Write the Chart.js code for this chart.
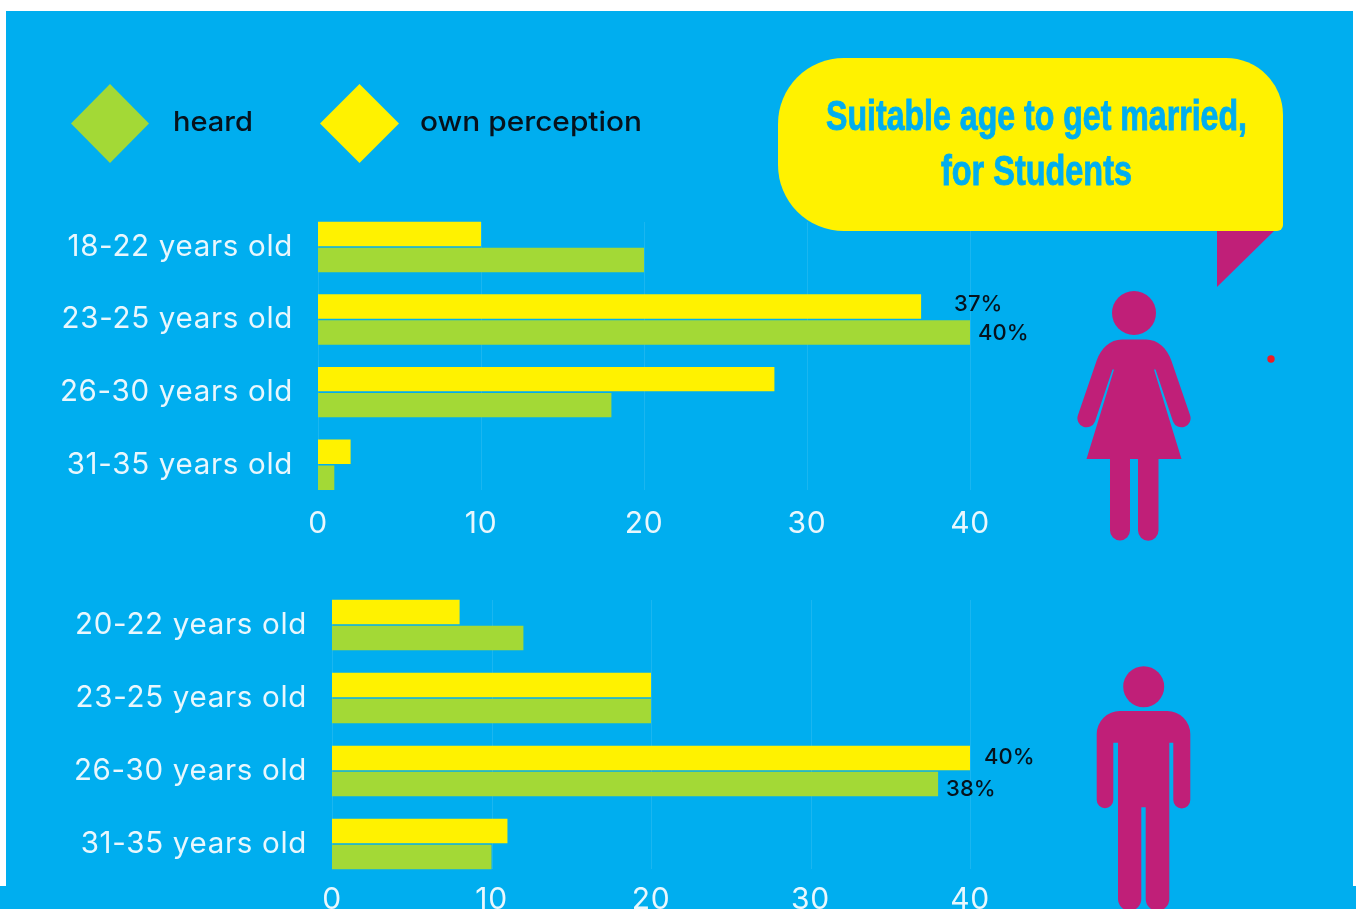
<!DOCTYPE html>
<html>
<head>
<meta charset="utf-8">
<title>Suitable age to get married, for Students</title>
<script src="https://cdn.jsdelivr.net/npm/chart.js@4"></script>
<style>
    html, body { margin: 0; padding: 0; width: 1356px; height: 909px; overflow: hidden; background: #fff; }
    .panel { position: absolute; background: #00aeef; }
    #panel { left: 6px; top: 11px; width: 1347px; height: 898px; }
    #strip { left: 0; top: 886px; width: 1356px; height: 23px; }
    canvas { position: absolute; left: 0; }
    #femaleChart { top: 200px; }
    #maleChart { top: 570px; }
    #art { position: absolute; left: 0; top: 0; }
</style>
</head>
<body>
<div class="panel" id="panel"></div>
<div class="panel" id="strip"></div>
<canvas id="femaleChart" width="1100" height="350"></canvas>
<canvas id="maleChart" width="1100" height="360"></canvas>

<svg id="art" width="1356" height="909" viewBox="0 0 1356 909">
    <!-- legend -->
    <polygon id="keyHeard" points="110,84 149,123.5 110,163 71,123.5"/>
    <polygon id="keyOwn" points="359.5,84 399,123.5 359.5,163 320,123.5"/>
    <text id="keyHeardText" x="173" y="131" textLength="80" lengthAdjust="spacingAndGlyphs"
          font-family="Inter" font-size="27" font-weight="500" fill="#06121c"></text>
    <text id="keyOwnText" x="420" y="131" textLength="222" lengthAdjust="spacingAndGlyphs"
          font-family="Inter" font-size="27" font-weight="500" fill="#06121c"></text>

    <!-- speech bubble -->
    <polygon points="1217,231 1274,231 1217,287" fill="#c01f78"/>
    <path fill="#fff200" d="M844 58 H1226 A57 57 0 0 1 1283 115 V225 A6 6 0 0 1 1277 231 H844 A66 66 0 0 1 778 165 V124 A66 66 0 0 1 844 58 Z"/>
    <g font-family="'Liberation Sans', Arial" font-size="42" font-weight="700" fill="#00aeef" stroke="#00aeef" stroke-width="0.9">
        <text id="titleOne" x="826" y="130" textLength="421" lengthAdjust="spacingAndGlyphs"></text>
        <text id="titleTwo" x="941" y="185" textLength="191" lengthAdjust="spacingAndGlyphs"></text>
    </g>

    <!-- woman -->
    <g fill="#c01f78">
        <circle cx="1134" cy="313" r="22"/>
        <path d="M1122 339.5 H1146 C1158 339.5 1167 348 1171.5 361 L1190 415 A8.8 8.8 0 0 1 1173 421.5 L1155.5 369.5 H1154 L1181.5 459 H1158.5 V530.5 A10.2 10.2 0 0 1 1138 530.5 V459 H1130 V530.5 A10 10 0 0 1 1110 530.5 V459 H1086.5 L1114 369.5 H1112.5 L1095 421.5 A8.8 8.8 0 0 1 1078 415 L1096.5 361 C1101 348 1110 339.5 1122 339.5 Z"/>
    </g>

    <!-- man -->
    <g fill="#c01f78">
        <circle cx="1143.7" cy="686.7" r="20.5"/>
        <path d="M1120 711 H1167 A23 23 0 0 1 1190.3 734 V800 A8.5 8.5 0 0 1 1173.3 800 V742.7 H1169.3 V899 A11.8 11.8 0 0 1 1145.7 899 V807.3 H1141.3 V899 A11.6 11.6 0 0 1 1118 899 V742.7 H1113.3 V800 A8.3 8.3 0 0 1 1096.7 800 V734 A23 23 0 0 1 1120 711 Z"/>
    </g>

    <circle cx="1271" cy="359" r="3.7" fill="#ed1c24"/>
</svg>

<script>
const titleLines = ['Suitable age to get married,', 'for Students'];
const seriesNames = ['own perception', 'heard'];

const femaleAges = ['18-22 years old', '23-25 years old', '26-30 years old', '31-35 years old'];
const femaleOwn = [10, 37, 28, 2];
const femaleHeard = [20, 40, 18, 1];

const maleAges = ['20-22 years old', '23-25 years old', '26-30 years old', '31-35 years old'];
const maleOwn = [8, 20, 40, 11];
const maleHeard = [12, 20, 38, 10];

const YELLOW = '#fff200';
const GREEN = '#a3d936';
const TICK_COLOR = '#e9f7fd';
const FONT = 'Inter, "Noto Sans", sans-serif';

document.getElementById('titleOne').textContent = titleLines[0];
document.getElementById('titleTwo').textContent = titleLines[1];
document.getElementById('keyOwnText').textContent = seriesNames[0];
document.getElementById('keyHeardText').textContent = seriesNames[1];
document.getElementById('keyOwn').setAttribute('fill', YELLOW);
document.getElementById('keyHeard').setAttribute('fill', GREEN);

// faint vertical guides, shorter than the plot area, plus the few % labels
const decorPlugin = {
    id: 'decor',
    beforeDraw(chart) {
        // Inter runs narrow for these axis labels
        chart.ctx.letterSpacing = '0.7px';
    },
    beforeDatasetsDraw(chart, args, opts) {
        const { ctx, scales } = chart;
        ctx.save();
        ctx.strokeStyle = 'rgba(255,255,255,0.1)';
        ctx.lineWidth = 1;
        scales.x.ticks.forEach(t => {
            const x = Math.round(scales.x.getPixelForValue(t.value)) + 0.5;
            ctx.beginPath();
            ctx.moveTo(x, opts.guideTop);
            ctx.lineTo(x, opts.guideBottom);
            ctx.stroke();
        });
        ctx.restore();
    },
    afterDatasetsDraw(chart, args, opts) {
        const { ctx } = chart;
        ctx.save();
        ctx.letterSpacing = '0px';
        ctx.font = '500 22px ' + FONT;
        ctx.fillStyle = '#06121c';
        ctx.textBaseline = 'middle';
        opts.labels.forEach(l => {
            const bar = chart.getDatasetMeta(l.series).data[l.index];
            const value = chart.data.datasets[l.series].data[l.index];
            ctx.fillText(value + '%', bar.x + l.dx, bar.y + l.dy);
        });
        ctx.restore();
    }
};

function drawPanel(id, ages, own, heard, layout, decor) {
    const ctx = document.getElementById(id)?.getContext('2d');
    if (!ctx) return null;

    return new Chart(ctx, {
        type: 'bar',
        data: {
            labels: ages,
            datasets: [
                { label: seriesNames[0], data: own, backgroundColor: YELLOW },
                { label: seriesNames[1], data: heard, backgroundColor: GREEN }
            ]
        },
        plugins: [decorPlugin],
        options: {
            indexAxis: 'y',
            responsive: false,
            animation: false,
            categoryPercentage: 0.716,
            barPercentage: 0.94,
            layout: { padding: { left: 0, right: 130, top: layout.top, bottom: 0 } },
            plugins: {
                legend: { display: false },
                tooltip: { enabled: false },
                decor
            },
            scales: {
                x: {
                    min: 0,
                    max: 40,
                    grid: { display: false, drawTicks: false },
                    border: { display: false },
                    ticks: {
                        stepSize: 10,
                        color: TICK_COLOR,
                        font: { family: FONT, size: 30 },
                        padding: layout.tickGap,
                        maxRotation: 0
                    },
                    afterFit(scale) { scale.height = layout.xHeight; }
                },
                y: {
                    grid: { display: false, drawTicks: false },
                    border: { display: false },
                    ticks: {
                        color: TICK_COLOR,
                        font: { family: FONT, size: 29.5 },
                        padding: 25
                    },
                    afterFit(scale) {
                        scale.width = layout.left;
                        // tick padding would otherwise push the plot area down
                        scale.paddingTop = 0;
                        scale.paddingBottom = 0;
                    }
                }
            }
        }
    });
}

drawPanel('femaleChart', femaleAges, femaleOwn, femaleHeard,
    { top: 10.7, left: 318, xHeight: 49, tickGap: 5 },
    {
        guideTop: 22,
        guideBottom: 290,
        labels: [
            { series: 0, index: 1, dx: 33, dy: -2 },
            { series: 1, index: 1, dx: 8, dy: 1 }
        ]
    });

drawPanel('maleChart', maleAges, maleOwn, maleHeard,
    { top: 18.5, left: 332, xHeight: 49.5, tickGap: 1.5 },
    {
        guideTop: 30,
        guideBottom: 299,
        labels: [
            { series: 0, index: 2, dx: 14, dy: -1 },
            { series: 1, index: 2, dx: 8, dy: 5 }
        ]
    });
</script>
</body>
</html>
